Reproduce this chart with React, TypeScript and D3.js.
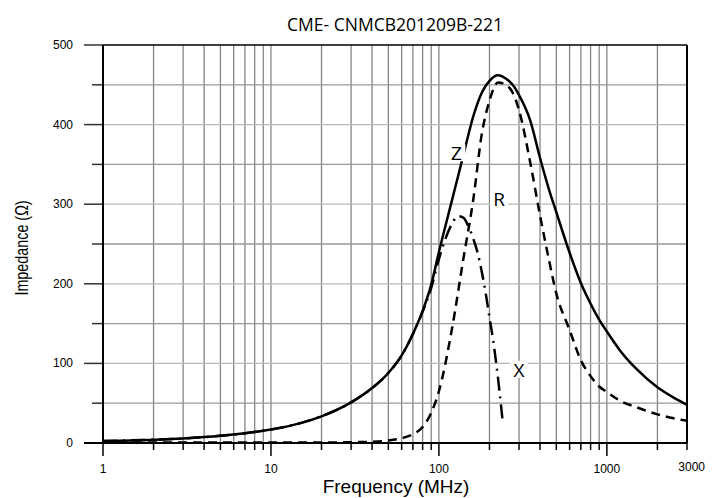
import { useEffect, useRef } from "react";
import * as d3 from "d3";

const TITLE = "CME- CNMCB201209B-221";

// impedance |Z| (solid)
const zFreq = [1, 2, 3, 5, 7, 10, 15, 20, 30, 40, 50, 60, 70, 80, 90, 100, 120, 140, 160, 180, 200, 225, 250, 275, 300, 350, 400, 450, 500, 600, 700, 800, 900, 1000, 1200, 1500, 2000, 2500, 3000];
const zVal = [2.5, 4.2, 5.8, 9, 12.3, 17, 25, 33.5, 51, 69, 88, 110, 137, 166, 199, 240, 306, 362, 410, 440, 455, 462, 458, 450, 437, 405, 358, 320, 290, 239, 201, 175, 155, 140, 116, 93, 70, 57, 48];

// resistance R (dashed)
const rVal = [0.5, 0.5, 0.5, 0.5, 0.5, 0.5, 0.5, 0.5, 1, 1.5, 3, 6, 11, 20, 38, 65, 145, 232, 305, 388, 430, 453, 450, 440, 418, 352, 286, 232, 188, 142, 104, 84, 71, 64, 53, 45, 36, 31, 28];

// reactance X (dash-dot)
const xFreq = [1, 2, 3, 5, 7, 10, 15, 20, 30, 40, 50, 60, 70, 80, 90, 100, 110, 120, 130, 140, 150, 160, 170, 180, 190, 200, 210, 220, 230, 240];
const xVal = [2.5, 4.2, 5.8, 9, 12.3, 17, 25, 33.5, 51, 69, 88, 110, 137, 165, 195, 231, 258, 276, 285, 283, 272, 257, 239, 215, 188, 158, 130, 98, 63, 26];

const xMajor = [1, 10, 100, 1000];
const xTickLabels = ["1", "10", "100", "1000", "3000"];
const xTickValues = [1, 10, 100, 1000, 3000];
const yMajor = [0, 100, 200, 300, 400, 500];

export default function App() {
  const ref = useRef<SVGSVGElement | null>(null);

  useEffect(() => {
    if (!ref.current) return;
    const svg = d3.select(ref.current);
    svg.selectAll("*").remove();

    const x = d3.scaleLog().domain([1, 3000]).range([103, 687]);
    const y = d3.scaleLinear().domain([0, 500]).range([443, 45]);

    // vertical grid: 2..9 of every decade plus 2000
    const vGrid: number[] = [];
    for (const dec of [1, 10, 100, 1000]) {
      for (let k = 2; k <= 9; k++) {
        const v = dec * k;
        if (v < 3000) vGrid.push(v);
      }
    }
    const allX = [...xMajor, ...vGrid];
    const sans = "'Liberation Sans', Arial, sans-serif";

    const g = svg.append("g");

    g.selectAll("line.vg")
      .data([10, 100, 1000, ...vGrid])
      .join("line")
      .attr("x1", d => x(d)).attr("x2", d => x(d))
      .attr("y1", y(500)).attr("y2", y(0))
      .attr("stroke", "#858585").attr("stroke-width", 1.3);

    g.selectAll("line.hg")
      .data(d3.range(50, 500, 50))
      .join("line")
      .attr("x1", x(1)).attr("x2", x(3000))
      .attr("y1", d => y(d)).attr("y2", d => y(d))
      .attr("stroke", d => (d % 100 === 0 ? "#b8b8b8" : "#999"))
      .attr("stroke-width", 1.3);

    // bottom ticks
    g.selectAll("line.bt")
      .data([...allX, 3000])
      .join("line")
      .attr("x1", d => x(d)).attr("x2", d => x(d))
      .attr("y1", y(0))
      .attr("y2", d => y(0) + (xMajor.includes(d) ? 13 : 7))
      .attr("stroke", "#000").attr("stroke-width", 1.5);

    // left ticks
    g.selectAll("line.lt")
      .data(d3.range(0, 501, 50))
      .join("line")
      .attr("x1", d => (d % 100 === 0 ? 84 : 92)).attr("x2", x(1))
      .attr("y1", d => y(d)).attr("y2", d => y(d))
      .attr("stroke", "#333").attr("stroke-width", 1.5);

    // frame
    g.append("line").attr("x1", x(1)).attr("x2", x(3000)).attr("y1", y(500)).attr("y2", y(500))
      .attr("stroke", "#000").attr("stroke-width", 1.5);
    g.append("line").attr("x1", x(1)).attr("x2", x(1)).attr("y1", y(500)).attr("y2", y(0))
      .attr("stroke", "#000").attr("stroke-width", 2);
    g.append("line").attr("x1", x(3000)).attr("x2", x(3000)).attr("y1", y(500)).attr("y2", y(0))
      .attr("stroke", "#000").attr("stroke-width", 2);
    g.append("line").attr("x1", 84).attr("x2", x(3000)).attr("y1", y(0)).attr("y2", y(0))
      .attr("stroke", "#000").attr("stroke-width", 1.8);

    // tick labels
    g.selectAll("text.xl")
      .data(xTickValues)
      .join("text")
      .attr("x", d => x(d)).attr("y", d => (d === 3000 ? 471 : 473))
      .attr("text-anchor", d => (d === 3000 ? "end" : "middle"))
      .attr("dx", d => (d === 3000 ? 18 : 0))
      .style("font-family", sans)
      .style("font-size", "12px")
      .text((_, i) => xTickLabels[i]);

    g.selectAll("text.yl")
      .data(yMajor)
      .join("text")
      .attr("x", 73).attr("y", d => y(d) + 4)
      .attr("text-anchor", "end")
      .style("font-family", sans)
      .style("font-size", "12px")
      .text(d => String(d));

    // curves
    const line = d3.line<[number, number]>()
      .x(d => x(d[0])).y(d => y(d[1]))
      .curve(d3.curveMonotoneX);

    const zPts = zFreq.map((f, i) => [f, zVal[i]] as [number, number]);
    const rPts = zFreq.map((f, i) => [f, rVal[i]] as [number, number]);
    const xPts = xFreq.map((f, i) => [f, xVal[i]] as [number, number]);

    g.append("path").attr("d", line(xPts)).attr("fill", "none")
      .attr("stroke", "#000").attr("stroke-width", 2.5)
      .attr("stroke-dasharray", "14,6,2,6");
    g.append("path").attr("d", line(rPts)).attr("fill", "none")
      .attr("stroke", "#000").attr("stroke-width", 2.5)
      .attr("stroke-dasharray", "9,6");
    g.append("path").attr("d", line(zPts)).attr("fill", "none")
      .attr("stroke", "#000").attr("stroke-width", 2.5);

    // curve labels with white boxes
    const labels = [
      { t: "Z", f: 127, v: 364 },
      { t: "R", f: 228, v: 307 },
      { t: "X", f: 300, v: 92 },
    ];
    labels.forEach(l => {
      const cx = x(l.f), cy = y(l.v);
      g.append("rect").attr("x", cx - 9).attr("y", cy - 9).attr("width", 18).attr("height", 17)
        .attr("fill", "#fff");
      g.append("text").attr("x", cx).attr("y", cy + 7)
        .attr("text-anchor", "middle")
        .style("font-family", "'Open Sans', 'DejaVu Sans', sans-serif")
        .style("font-size", "19px")
        .text(l.t);
    });

    // titles
    svg.append("text").attr("x", 395).attr("y", 31)
      .attr("text-anchor", "middle")
      .style("font-family", "'Open Sans', 'DejaVu Sans', sans-serif")
      .style("font-size", "17.5px")
      .text(TITLE);

    svg.append("text").attr("x", 396).attr("y", 493)
      .attr("text-anchor", "middle")
      .style("font-family", sans)
      .style("font-size", "19px")
      .text("Frequency (MHz)");

    svg.append("text")
      .attr("transform", `translate(28,${y(245)}) rotate(-90) scale(0.82,1)`)
      .attr("text-anchor", "middle")
      .style("font-family", sans)
      .style("font-size", "17.5px")
      .text("Impedance (Ω)");
  }, []);

  return (
    <svg
      ref={ref}
      width={720}
      height={498}
      style={{ position: "absolute", left: 0, top: 0, background: "#fff" }}
    />
  );
}
